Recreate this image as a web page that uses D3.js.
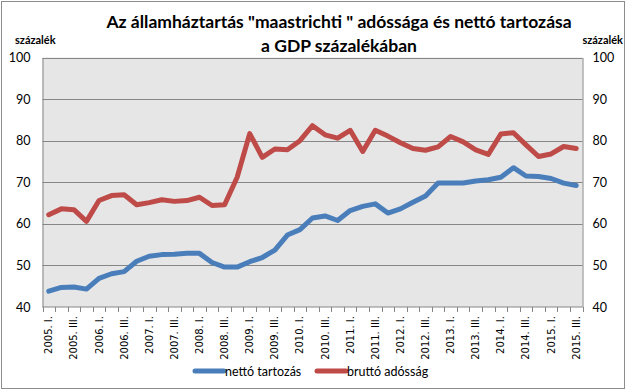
<!DOCTYPE html>
<html><head><meta charset="utf-8">
<script src="https://cdn.jsdelivr.net/npm/d3@7"></script>
<style>body{margin:0;background:#fff}svg{display:block}</style>
</head><body><svg id="c" width="627" height="392"></svg>
<script>
const categories = ["2005. I.","2005. II.","2005. III.","2005. IV.","2006. I.","2006. II.","2006. III.","2006. IV.","2007. I.","2007. II.","2007. III.","2007. IV.","2008. I.","2008. II.","2008. III.","2008. IV.","2009. I.","2009. II.","2009. III.","2009. IV.","2010. I.","2010. II.","2010. III.","2010. IV.","2011. I.","2011. II.","2011. III.","2011. IV.","2012. I.","2012. II.","2012. III.","2012. IV.","2013. I.","2013. II.","2013. III.","2013. IV.","2014. I.","2014. II.","2014. III.","2014. IV.","2015. I.","2015. II.","2015. III."];
const netto = [43.8,44.7,44.8,44.3,46.9,48.0,48.5,51.0,52.2,52.6,52.7,52.9,52.9,50.7,49.6,49.6,50.9,51.9,53.7,57.3,58.6,61.4,61.9,60.8,63.2,64.2,64.8,62.6,63.6,65.2,66.7,69.8,69.8,69.8,70.3,70.6,71.2,73.5,71.5,71.4,70.9,69.8,69.2];
const brutto = [62.2,63.6,63.4,60.6,65.6,66.8,67.0,64.6,65.1,65.8,65.4,65.6,66.4,64.4,64.6,71.2,81.7,76.0,78.0,77.8,80.0,83.6,81.4,80.6,82.5,77.4,82.5,81.1,79.5,78.1,77.7,78.5,81.0,79.7,77.8,76.7,81.6,81.9,79.0,76.2,76.8,78.6,78.1];
const yTicks = [40,50,60,70,80,90,100];
const seriesNames = ["nettó tartozás","bruttó adósság"];
const seriesColors = ["#4A7EBB","#BE4B48"];
const titleLines = ["Az államháztartás \"maastrichti \" adóssága és nettó tartozása","a GDP százalékában"];
const unitLabel = "százalék";

const svg = d3.select("#c");
const L = 42.5, R = 582.5, T = 57.5, B = 307;
const F = "Lato, 'Open Sans', sans-serif";

svg.append("rect").attr("x",1.5).attr("y",1.5).attr("width",623).attr("height",387)
  .attr("fill","#fff").attr("stroke","#8c8c8c");

const x = d3.scaleBand().domain(categories).range([L,R]).padding(0);
const y = d3.scaleLinear().domain([40,100]).range([B,T]);

svg.append("rect").attr("x",L).attr("y",T).attr("width",R-L).attr("height",B-T).attr("fill","#E6E6E6");

// gridlines
svg.append("g").selectAll("line").data(yTicks.filter(d=>d>40)).join("line")
  .attr("x1",L).attr("x2",R).attr("y1",d=>Math.round(y(d))+0.5).attr("y2",d=>Math.round(y(d))+0.5)
  .attr("stroke","#868686").attr("stroke-width",1);

// left axis
const gl = svg.append("g").attr("transform",`translate(${L},0)`)
  .call(d3.axisLeft(y).tickValues(yTicks).tickSize(0).tickPadding(12));
gl.select(".domain").attr("stroke","#868686");
gl.selectAll("text").attr("font-family",F).attr("font-size",12.5).attr("fill","#000");
// right axis
const gr = svg.append("g").attr("transform",`translate(${R},0)`)
  .call(d3.axisRight(y).tickValues(yTicks).tickSize(0).tickPadding(10));
gr.select(".domain").attr("stroke","#868686");
gr.selectAll("text").attr("font-family",F).attr("font-size",12.5).attr("fill","#000");

// bottom axis line and ticks
svg.append("line").attr("x1",L).attr("x2",R).attr("y1",B).attr("y2",B).attr("stroke","#868686");
const bounds = categories.map(c=>x(c)).concat([R]);
svg.append("g").selectAll("line").data(bounds).join("line")
  .attr("x1",d=>Math.round(d)+0.5).attr("x2",d=>Math.round(d)+0.5).attr("y1",B).attr("y2",B+5)
  .attr("stroke","#868686");
svg.append("g").selectAll("text").data(categories.filter((c,i)=>i%2===0)).join("text")
  .attr("transform",d=>`translate(${x(d)+x.bandwidth()/2},${B+9}) rotate(-90)`)
  .attr("text-anchor","end").attr("dy","0.35em")
  .attr("font-family","'DejaVu Sans', sans-serif").attr("font-size",10).attr("fill","#000")
  .text(d=>d);

// lines
const line = d3.line().x((d,i)=>x(categories[i])+x.bandwidth()/2).y(d=>y(d));
[netto,brutto].forEach((s,k)=>{
  svg.append("path").datum(s).attr("d",line).attr("fill","none")
    .attr("stroke",seriesColors[k]).attr("stroke-width",5).attr("stroke-linejoin","round").attr("stroke-linecap","round");
});

// title
svg.append("g").selectAll("text").data(titleLines).join("text")
  .attr("x",339).attr("y",(d,i)=>28+i*24).attr("text-anchor","middle")
  .attr("font-family",F).attr("font-weight","bold").attr("font-size",17.5).attr("fill","#000")
  .text(d=>d);

// unit labels
svg.append("text").attr("x",15).attr("y",44).attr("font-family",F).attr("font-weight","bold")
  .attr("font-size",11).text(unitLabel);
svg.append("text").attr("x",623).attr("y",44).attr("text-anchor","end").attr("font-family",F).attr("font-weight","bold")
  .attr("font-size",11).text(unitLabel);

// legend
const lx = [195,317];
seriesNames.forEach((n,k)=>{
  svg.append("line").attr("x1",lx[k]).attr("x2",lx[k]+29).attr("y1",371).attr("y2",371)
    .attr("stroke",seriesColors[k]).attr("stroke-width",5).attr("stroke-linecap","round");
  svg.append("text").attr("x",lx[k]+30).attr("y",375.5).attr("font-family",F).attr("font-size",12.5).text(n);
});
</script></body></html>
